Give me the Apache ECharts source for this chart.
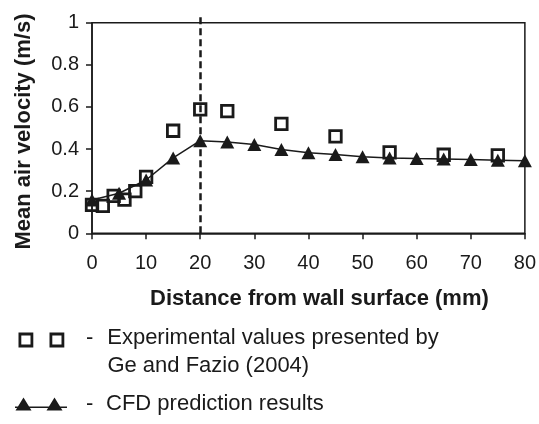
<!DOCTYPE html>
<html>
<head>
<meta charset="utf-8">
<script src="https://cdn.jsdelivr.net/npm/echarts@6/dist/echarts.min.js"></script>
<style>
html,body{margin:0;padding:0;background:#fff;}
#chart{width:539px;height:424px;}
</style>
</head>
<body>
<div id="chart"></div>
<script>
// Experimental values (Ge and Fazio 2004): [distance mm, velocity m/s]
var expX = [0, 2, 4, 6, 8, 10, 15, 20, 25, 35, 45, 55, 65, 75];
var expY = [0.135, 0.13, 0.178, 0.16, 0.2, 0.268, 0.487, 0.588, 0.58, 0.52, 0.46, 0.384, 0.373, 0.37];
// CFD prediction results
var cfdX = [0, 5, 10, 15, 20, 25, 30, 35, 40, 45, 50, 55, 60, 65, 70, 75, 80];
var cfdY = [0.158, 0.19, 0.253, 0.358, 0.44, 0.434, 0.422, 0.398, 0.382, 0.374, 0.363, 0.358, 0.355, 0.353, 0.35, 0.347, 0.344];
var xTicks = [0, 10, 20, 30, 40, 50, 60, 70, 80];
var yTicks = [0, 0.2, 0.4, 0.6, 0.8, 1];
var refLineX = 20;
var expName = 'Experimental values presented by Ge and Fazio (2004)';
var cfdName = 'CFD prediction results';

function pairs(xs, ys) { return xs.map(function (x, i) { return [x, ys[i]]; }); }

var FONT = 'Liberation Sans, Arial, sans-serif';
var INK = '#1a1a1a';

var chart = echarts.init(document.getElementById('chart'), null, {renderer: 'canvas'});
chart.setOption({
  animation: false,
  backgroundColor: '#fff',
  textStyle: {fontFamily: FONT, color: INK},
  grid: {left: 92, right: 12.5, top: 22.7, bottom: 190.7, show: true, borderColor: INK, borderWidth: 1.5, containLabel: false},
  xAxis: {
    type: 'value', min: xTicks[0], max: xTicks[xTicks.length - 1], interval: xTicks[1] - xTicks[0],
    name: 'Distance from wall surface (mm)', nameLocation: 'middle', nameGap: 55,
    nameTextStyle: {fontFamily: FONT, fontSize: 22, fontWeight: 'bold', color: INK, padding: [0, 0, 0, 22]},
    axisLine: {lineStyle: {color: INK, width: 1.5}},
    axisTick: {show: true, length: 6, lineStyle: {color: INK, width: 1.5}},
    axisLabel: {fontFamily: FONT, fontSize: 20, color: INK, margin: 20},
    splitLine: {show: false}
  },
  yAxis: {
    type: 'value', min: yTicks[0], max: yTicks[yTicks.length - 1], interval: 0.2,
    name: 'Mean air velocity (m/s)', nameLocation: 'middle', nameGap: 57,
    nameTextStyle: {fontFamily: FONT, fontSize: 22, fontWeight: 'bold', color: INK, padding: [0, 7, 0, 0]},
    axisLine: {lineStyle: {color: INK, width: 1.5}},
    axisTick: {show: true, length: 6, lineStyle: {color: INK, width: 1.5}},
    axisLabel: {fontFamily: FONT, fontSize: 20, color: INK, margin: 13},
    splitLine: {show: false}
  },
  legend: [
    {
      data: [expName], left: 18.5, top: 300, orient: 'vertical', padding: 0, selectedMode: false,
      itemWidth: 43, itemHeight: 12,
      icon: 'path://M0,0h12v12h-12z M31,0h12v12h-12z',
      itemStyle: {color: 'rgba(0,0,0,0)', borderColor: INK, borderWidth: 2.8, opacity: 1},
      textStyle: {fontFamily: FONT, fontSize: 22, color: INK, lineHeight: 28,
        rich: {
          e: {fontSize: 22, lineHeight: 24},
          d: {fontFamily: FONT, fontSize: 22, color: INK, lineHeight: 28, padding: [0, 14, 0, 18]},
          t: {fontFamily: FONT, fontSize: 22, color: INK, lineHeight: 28},
          g: {fontFamily: FONT, fontSize: 22, color: INK, lineHeight: 28, padding: [0, 0, 0, 39.5]}
        }},
      formatter: function () {
        return '{e| }\n{d|-}{t|Experimental values presented by}\n{g|Ge and Fazio (2004)}';
      }
    },
    {
      data: [cfdName], left: 15, top: 393, orient: 'vertical', padding: 0, selectedMode: false,
      itemWidth: 52, itemHeight: 13,
      icon: 'path://M0,9h52v1.6h-52z M8.5,0L16.5,13L0.5,13z M39.5,0L47.5,13L31.5,13z',
      itemStyle: {color: INK, borderWidth: 0, opacity: 1},
      textStyle: {fontFamily: FONT, fontSize: 22, color: INK, lineHeight: 22,
        rich: {
          d: {fontFamily: FONT, fontSize: 22, color: INK, lineHeight: 22, padding: [0, 12.7, 0, 14]},
          t: {fontFamily: FONT, fontSize: 22, color: INK, lineHeight: 22}
        }},
      formatter: function (name) { return '{d|-}{t|' + name + '}'; }
    }
  ],
  series: [
    {
      name: expName, type: 'scatter', clip: false,
      symbol: 'rect', symbolSize: 11.5,
      itemStyle: {color: 'rgba(0,0,0,0)', borderColor: INK, borderWidth: 2.8, opacity: 1},
      data: pairs(expX, expY),
      markLine: {
        silent: true, symbol: ['none', 'none'], label: {show: false},
        lineStyle: {color: INK, width: 2.5, type: [7, 4], opacity: 1},
        data: [[{coord: [refLineX, yTicks[0]]}, {coord: [refLineX, yTicks[yTicks.length - 1]], y: 14}]]
      },
      z: 2
    },
    {
      name: cfdName, type: 'line',
      symbol: 'triangle', symbolSize: [14, 13], showSymbol: true,
      lineStyle: {color: INK, width: 1.5},
      itemStyle: {color: INK, borderWidth: 0, opacity: 1},
      data: pairs(cfdX, cfdY),
      z: 3
    }
  ]
});
</script>
</body>
</html>
